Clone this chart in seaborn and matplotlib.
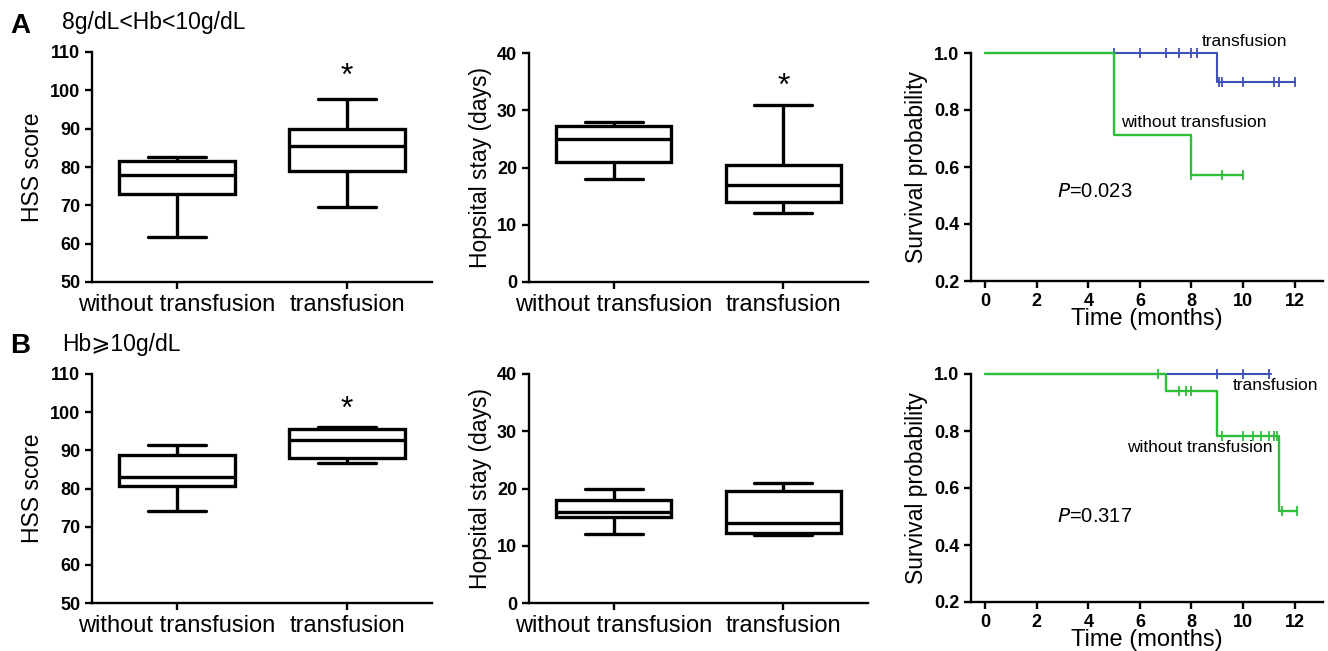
import numpy as np
import pandas as pd
import matplotlib
matplotlib.use("Agg")
import matplotlib.pyplot as plt
import seaborn as sns

sns.set_style("ticks")
plt.rcParams['font.family'] = ['Liberation Sans', 'DejaVu Sans']
plt.rcParams.update({
    "text.color": "black", "axes.labelcolor": "black",
    "xtick.color": "black", "ytick.color": "black",
    "axes.edgecolor": "black",
})

# ---------------- data ----------------
groups = ["without transfusion", "transfusion"]

# five-number summaries (min, q1, median, q3, max)
A_hss_without = [61.8, 73.0, 77.8, 81.5, 82.7]
A_hss_trans = [69.5, 79.0, 85.5, 90.0, 97.8]
A_stay_without = [18.0, 21.0, 25.0, 27.2, 28.0]
A_stay_trans = [12.0, 14.0, 17.0, 20.5, 31.0]
B_hss_without = [74.0, 80.7, 83.0, 88.7, 91.5]
B_hss_trans = [86.8, 88.0, 92.8, 95.5, 96.2]
B_stay_without = [12.0, 15.0, 15.9, 18.0, 20.0]
B_stay_trans = [11.8, 12.3, 13.9, 19.5, 21.0]

# Kaplan-Meier step curves
A_trans_t = [0, 9, 12]
A_trans_s = [1.0, 0.9, 0.9]
A_trans_cens = [5, 6, 7, 7.5, 8, 8.2, 9.05, 9.2, 10, 11.2, 11.4, 12]
A_without_t = [0, 5, 8, 10]
A_without_s = [1.0, 0.714, 0.571, 0.571]
A_without_cens = [8, 9.2, 10]

B_trans_t = [0, 11.1]
B_trans_s = [1.0, 1.0]
B_trans_cens = [9, 10, 11]
B_without_t = [0, 7, 9, 11.4, 12.1]
B_without_s = [1.0, 0.941, 0.784, 0.52, 0.52]
B_without_cens = [6.7, 7.5, 7.8, 8.0, 9.2, 10, 10.4, 10.7, 11.0, 11.2, 11.3, 11.5, 12.1]

BLUE = "#3F51B5"
GREEN = "#2EBF3A"

W, H = 1328, 651
fig = plt.figure(figsize=(W / 100, H / 100), dpi=100)


def ax_at(x0, y0, x1, y1):
    return fig.add_axes([x0 / W, 1 - y1 / H, (x1 - x0) / W, (y1 - y0) / H])


def style_axis(ax):
    for s in ["top", "right"]:
        ax.spines[s].set_visible(False)
    for s in ["left", "bottom"]:
        ax.spines[s].set_linewidth(1.7)
    ax.tick_params(axis="both", width=1.7, length=5, direction="out")
    for lab in ax.get_yticklabels():
        lab.set_fontweight("bold")
        lab.set_fontsize(13)


def boxpanel(ax, v_without, v_trans, ylabel, ylim, yticks, star=None):
    df = pd.DataFrame({
        "group": [groups[0]] * len(v_without) + [groups[1]] * len(v_trans),
        "value": list(v_without) + list(v_trans),
    })
    sns.boxplot(data=df, x="group", y="value", order=groups, ax=ax,
                color="white", linecolor="black", linewidth=2.4,
                whis=(0, 100), width=0.68, fliersize=0)
    ax.set_xlim(-0.5, 1.5)
    ax.set_ylim(*ylim)
    ax.set_yticks(yticks)
    ax.set_xlabel("")
    ax.set_ylabel(ylabel, fontsize=16.5)
    style_axis(ax)
    ax.tick_params(axis="x", labelsize=17)
    if star is not None:
        ax.text(1, star, "*", ha="center", va="center", fontsize=23)


def step_lookup(t, s, c):
    idx = np.searchsorted(np.asarray(t), np.asarray(c), side="right") - 1
    return np.asarray(s)[idx]


def kmpanel(ax, tt, ts, tc, wt, ws, wc, ptext, pos_t, pos_w, pos_p):
    sns.lineplot(x=tt, y=ts, ax=ax, color=BLUE, drawstyle="steps-post",
                 linewidth=1.5, estimator=None, sort=False)
    sns.scatterplot(x=tc, y=step_lookup(tt, ts, tc), ax=ax, marker="|",
                    color=BLUE, s=45, linewidth=1.3)
    sns.lineplot(x=wt, y=ws, ax=ax, color=GREEN, drawstyle="steps-post",
                 linewidth=1.7, estimator=None, sort=False)
    sns.scatterplot(x=wc, y=step_lookup(wt, ws, wc), ax=ax, marker="|",
                    color=GREEN, s=45, linewidth=1.3)
    ax.set_xlim(-0.55, 13.1)
    ax.set_ylim(0.2, 1.0)
    ax.set_xticks(range(0, 13, 2))
    ax.set_yticks([0.2, 0.4, 0.6, 0.8, 1.0])
    ax.set_yticklabels(["0.2", "0.4", "0.6", "0.8", "1.0"])
    ax.set_xlabel("Time (months)", fontsize=17, labelpad=-1)
    ax.set_ylabel("Survival probability", fontsize=16.5)
    style_axis(ax)
    for lab in ax.get_xticklabels():
        lab.set_fontweight("bold")
        lab.set_fontsize(13)
    ax.text(pos_t[0], pos_t[1], "transfusion", fontsize=12.5, ha="left", va="center")
    ax.text(pos_w[0], pos_w[1], "without transfusion", fontsize=12.5, ha="left", va="center")
    ax.text(pos_p[0], pos_p[1], "$\\it{P}$=" + ptext, fontsize=14.5, ha="left", va="center")
    for c in ax.collections + ax.lines:
        c.set_clip_on(False)


# ---- row A ----
ax1 = ax_at(92, 52, 432, 282)
boxpanel(ax1, A_hss_without, A_hss_trans, "HSS score", (50, 110),
         range(50, 111, 10), star=103.5)
ax2 = ax_at(529, 53, 868, 282)
boxpanel(ax2, A_stay_without, A_stay_trans, "Hopsital stay (days)", (0, 40),
         range(0, 41, 10), star=34)
ax3 = ax_at(971, 53, 1323, 281)
kmpanel(ax3, A_trans_t, A_trans_s, A_trans_cens, A_without_t, A_without_s,
        A_without_cens, "0.023", (8.4, 1.04), (5.25, 0.755), (2.8, 0.515))

# ---- row B ----
ax4 = ax_at(92, 374, 432, 603)
boxpanel(ax4, B_hss_without, B_hss_trans, "HSS score", (50, 110),
         range(50, 111, 10), star=100.5)
ax5 = ax_at(529, 374, 868, 603)
boxpanel(ax5, B_stay_without, B_stay_trans, "Hopsital stay (days)", (0, 40),
         range(0, 41, 10))
ax6 = ax_at(971, 374, 1323, 602)
kmpanel(ax6, B_trans_t, B_trans_s, B_trans_cens, B_without_t, B_without_s,
        B_without_cens, "0.317", (9.6, 0.96), (5.5, 0.742), (2.8, 0.5))

# panel labels
fig.text(10 / W, 1 - 26 / H, "A", fontsize=20, fontweight="bold", va="center")
fig.text(62 / W, 1 - 22 / H, "8g/dL<Hb<10g/dL", fontsize=16.5, va="center")
fig.text(10 / W, 1 - 346 / H, "B", fontsize=20, fontweight="bold", va="center")
fig.text(62 / W, 1 - 344 / H, "Hb\u2a7e10g/dL", fontsize=16.5, va="center",
         family=["Liberation Sans", "DejaVu Sans", "Noto Sans CJK SC"])

fig.savefig("out.png", dpi=100)
